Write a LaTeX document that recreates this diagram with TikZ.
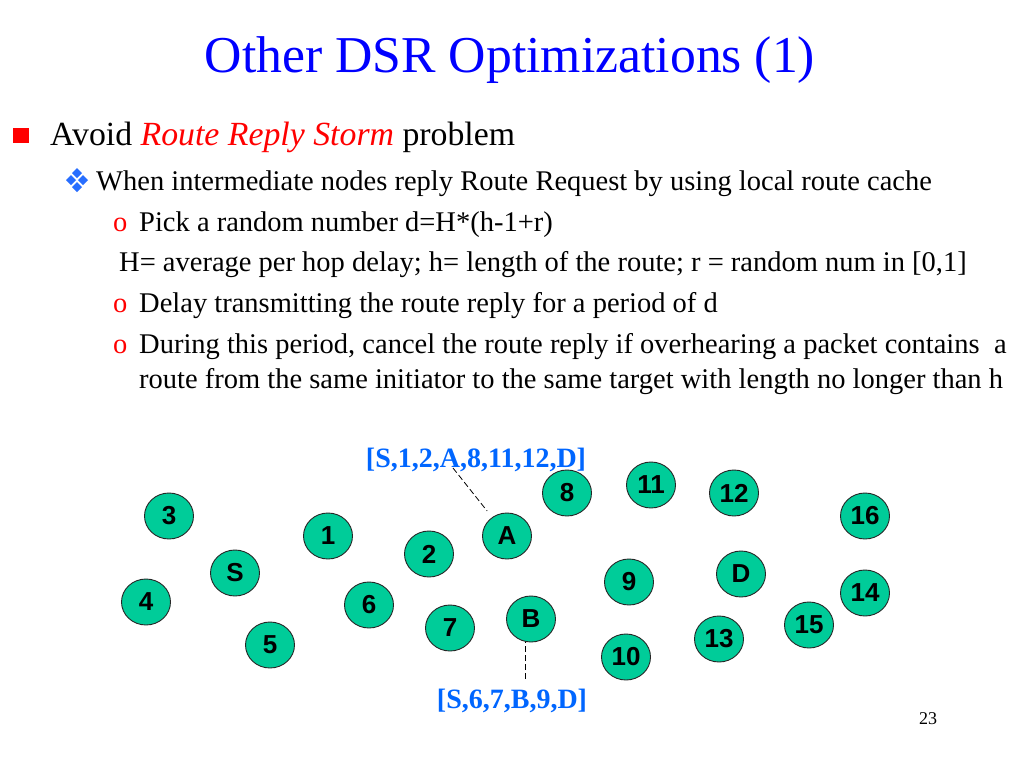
\documentclass[tikz,border=0pt]{standalone}
\usepackage{fontspec}
\setmainfont{Liberation Serif}
\newfontfamily\nodefont{Liberation Sans}
\usetikzlibrary{shapes.geometric}
\definecolor{titleblue}{RGB}{0,0,255}
\definecolor{bulletred}{RGB}{255,0,0}
\definecolor{labelblue}{RGB}{0,102,255}
\definecolor{diamondblue}{RGB}{40,110,255}
\definecolor{nodegreen}{RGB}{0,204,153}
\tikzset{
  net/.style={ellipse,draw=black!85,line width=0.9pt,fill=nodegreen,minimum width=49pt,minimum height=46pt,inner sep=0pt,font=\nodefont\bfseries\fontsize{26}{26}\selectfont},
  txt/.style={anchor=base west,inner sep=0pt,font=\fontsize{28.5}{34}\selectfont},
  lvlone/.style={anchor=base west,inner sep=0pt,font=\fontsize{33.8}{40}\selectfont},
  route/.style={anchor=base,inner sep=0pt,text=labelblue,font=\bfseries\fontsize{28}{32}\selectfont},
  obul/.style={anchor=base west,inner sep=0pt,text=bulletred,font=\fontsize{28.5}{34}\selectfont},
  leader/.style={draw=black,line width=0.8pt,dash pattern=on 6pt off 3pt},
  dia/.style={fill=diamondblue}
}
\begin{document}
\begin{tikzpicture}[x=1pt,y=-1pt]
\useasboundingbox (0,0) rectangle (1024,768);
\fill[white] (0,0) rectangle (1024,768);
% title
\node[anchor=base,inner sep=0pt,text=titleblue,font=\fontsize{51.7}{60}\selectfont] (title) at (510,72) {Other DSR Optimizations (1)};
% level 1
\fill[bulletred] (13,128) rectangle (29,143);
\node[lvlone] (l1) at (50,145) {Avoid \textcolor{bulletred}{\itshape Route Reply Storm} problem};
% level 2 bullet (four diamonds)
\foreach \dx/\dy in {77/173, 71/180, 83/180, 77/187}{
  \fill[dia] (\dx,\dy-5) -- (\dx+5,\dy) -- (\dx,\dy+5) -- (\dx-5,\dy) -- cycle;
}
\node[txt] (l2) at (96,190) {When intermediate nodes reply Route Request by using local route cache};
% level 3
\node[obul] (o1) at (113,231) {o};
\node[txt] (l3) at (139,231) {Pick a random number d=H*(h-1+r)};
\node[txt] (l4) at (119,271) {H= average per hop delay; h= length of the route; r = random num in [0,1]};
\node[obul] (o2) at (113,312) {o};
\node[txt] (l5) at (139,312) {Delay transmitting the route reply for a period of d};
\node[obul] (o3) at (113,353) {o};
\node[txt] (l6) at (139,353) {During this period, cancel the route reply if overhearing a packet contains \ a};
\node[txt] (l7) at (139,388) {route from the same initiator to the same target with length no longer than h};
% network nodes
\node[net] (n3) at (169,516) {3};
\node[net] (n1) at (328,536) {1};
\node[net] (S) at (235,573) {S};
\node[net] (n4) at (146,602) {4};
\node[net] (n2) at (429,554) {2};
\node[net] (A) at (507,536) {A};
\node[net] (n8) at (567,493) {8};
\node[net] (n6) at (369,605) {6};
\node[net] (n7) at (450,628) {7};
\node[net] (B) at (531,619) {B};
\node[net] (n5) at (270,645) {5};
\node[net] (n11) at (651,485) {11};
\node[net] (n12) at (734,493) {12};
\node[net] (n16) at (865,516) {16};
\node[net] (n9) at (629,582) {9};
\node[net] (D) at (741,574) {D};
\node[net] (n14) at (865,593) {14};
\node[net] (n15) at (809,625) {15};
\node[net] (n13) at (719,639) {13};
\node[net] (n10) at (626,657) {10};
% route labels
\node[route] (r1) at (476,467) {[S,1,2,A,8,11,12,D]};
\node[route] (r2) at (512,708) {[S,6,7,B,9,D]};
\coordinate (c1) at (453,468);
\coordinate (c2) at (525,679);
\draw[leader,shorten >=8pt] (c1) -- (A);
\draw[leader] (c2) -- (c2 |- B.south);
% page number
\node[anchor=base,inner sep=0pt,font=\fontsize{18}{20}\selectfont] (pg) at (928,724) {23};
\end{tikzpicture}
\end{document}
